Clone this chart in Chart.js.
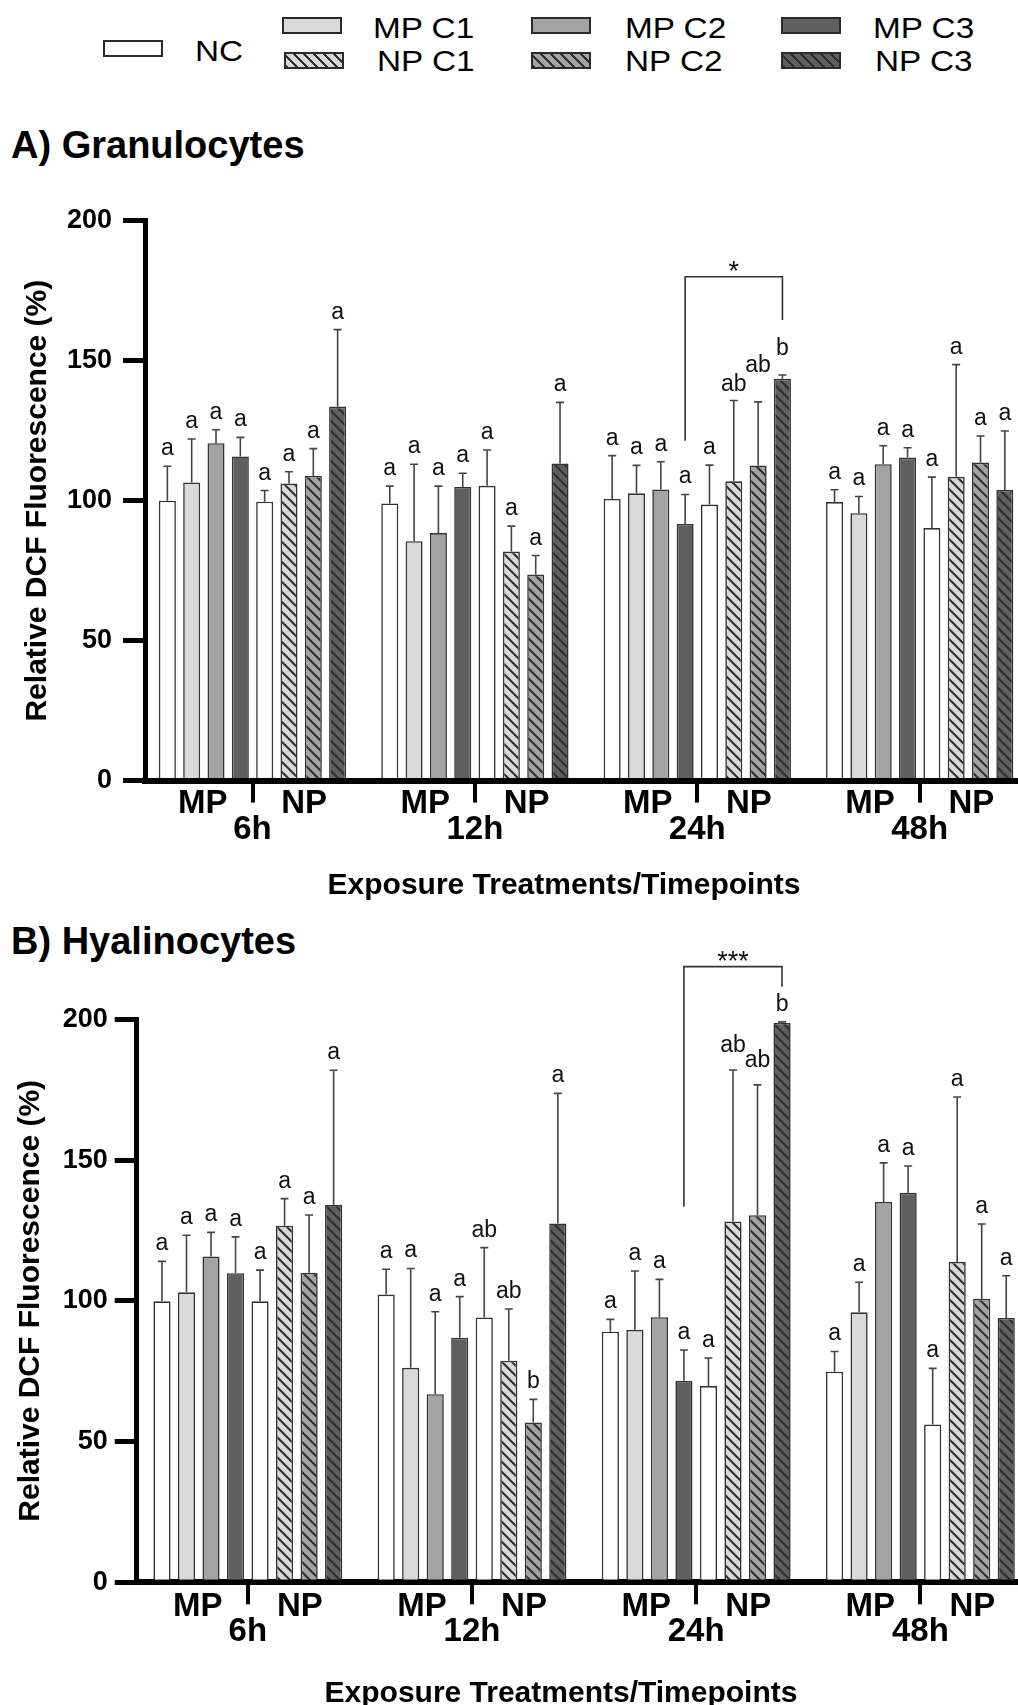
<!DOCTYPE html>
<html>
<head>
<meta charset="utf-8">
<script src="https://cdn.jsdelivr.net/npm/chart.js@4.4.1/dist/chart.umd.min.js"></script>
<style>
  html, body { margin: 0; padding: 0; background: #fff; overflow: hidden; }
  #page { position: relative; width: 1018px; height: 1705px; overflow: hidden; background: #fff;
          font-family: 'Liberation Sans', Arial, sans-serif; color: #000; }
  #page canvas { position: absolute; left: 0; }
  .txt { position: absolute; white-space: nowrap; line-height: 1; }
  .panel-title { font-size: 38px; font-weight: bold; left: 11px; }
  .x-title { font-size: 30px; font-weight: bold; transform: translateX(-50%); }
  .leg-box { position: absolute; box-sizing: border-box; width: 60px; height: 17px; border: 2px solid #2b2b2b; }
  .leg-txt { position: absolute; font-size: 30px; line-height: 1; white-space: nowrap;
             transform: scaleX(1.11); transform-origin: left top; }
</style>
</head>
<body>
<div id="page">
  <div id="legend"></div>
  <div class="txt panel-title" style="top:126px">A) Granulocytes</div>
  <canvas id="chartGran"></canvas>
  <div class="txt x-title" style="top:869px; left:564px">Exposure Treatments/Timepoints</div>
  <div class="txt panel-title" style="top:922px">B) Hyalinocytes</div>
  <canvas id="chartHyal"></canvas>
  <div class="txt x-title" style="top:1677px; left:561px">Exposure Treatments/Timepoints</div>
</div>
<script>
// --- data ---
const timepoints = ['6h', '12h', '24h', '48h'];
const seriesNames = ['NC', 'MP C1', 'MP C2', 'MP C3', 'NC', 'NP C1', 'NP C2', 'NP C3'];
const groupLabels = ['MP', 'NP'];

// A) Granulocytes: mean per series (rows) and timepoint (cols)
const granMean = [
    [100, 99, 100.6, 99.5],
    [106.5, 85.5, 102.6, 95.5],
    [120.5, 88.4, 104, 113],
    [115.8, 104.9, 91.7, 115.4],
    [99.6, 105.3, 98.6, 90.2],
    [106.1, 81.8, 106.9, 108.5],
    [108.8, 73.6, 112.6, 113.6],
    [133.6, 113.3, 143.5, 103.8]
];
const granErr = [
    [12.3, 6.2, 15.5, 4.4],
    [15.5, 27.5, 10, 6],
    [4.8, 16.8, 9.9, 6.6],
    [6.8, 4.9, 10.5, 3.5],
    [4, 12.8, 14.1, 18.2],
    [4.2, 9.1, 28.9, 40.1],
    [9.8, 6.8, 22.7, 9.5],
    [27.5, 21.8, 1.4, 21.1]
];
const granLetters = [
    ['a', 'a', 'a', 'a'],
    ['a', 'a', 'a', 'a'],
    ['a', 'a', 'a', 'a'],
    ['a', 'a', 'a', 'a'],
    ['a', 'a', 'a', 'a'],
    ['a', 'a', 'ab', 'a'],
    ['a', 'a', 'ab', 'a'],
    ['a', 'a', 'b', 'a']
];
const granBracket = { from: [3, 2], to: [7, 2], yFrom: 121.4, yTop: 180, yTo: 164.5, text: '*' };

// B) Hyalinocytes
const hyalMean = [
    [99.8, 102.2, 89, 74.8],
    [103, 76.2, 89.7, 95.9],
    [115.7, 66.8, 94.2, 135.1],
    [109.8, 86.9, 71.6, 138.4],
    [99.8, 94.1, 69.7, 56.1],
    [126.7, 78.7, 128.2, 113.8],
    [110, 56.8, 130.4, 100.7],
    [134, 127.5, 198.8, 93.9]
];
const hyalErr = [
    [14.2, 9, 4.4, 7.2],
    [20.3, 35.3, 20.9, 10.7],
    [8.6, 29.3, 13.4, 13.9],
    [12.9, 14.6, 10.9, 9.5],
    [11.1, 24.8, 10, 19.9],
    [9.6, 18.4, 53.8, 58.6],
    [20.5, 8.2, 46.3, 26.6],
    [47.9, 46.2, 0.3, 15]
];
const hyalLetters = [
    ['a', 'a', 'a', 'a'],
    ['a', 'a', 'a', 'a'],
    ['a', 'a', 'a', 'a'],
    ['a', 'a', 'a', 'a'],
    ['a', 'ab', 'a', 'a'],
    ['a', 'ab', 'ab', 'a'],
    ['a', 'b', 'ab', 'a'],
    ['a', 'a', 'b', 'a']
];
const hyalBracket = { from: [3, 2], to: [7, 2], yFrom: 133.4, yTop: 218.7, yTo: 211.6, text: '***' };

// --- styles ---
const seriesFill = ['#ffffff', '#d9d9d9', '#a3a3a3', '#5f5f5f', '#ffffff', '#d9d9d9', '#a3a3a3', '#5f5f5f'];
const seriesHatch = [false, false, false, false, false, true, true, true];
const FONT = '"Liberation Sans", Arial, sans-serif';
const CANVAS_W = 1040;

Chart.defaults.font.family = FONT;
Chart.defaults.color = '#000';

function hatch(ctx, base) {
    const tile = document.createElement('canvas');
    tile.width = tile.height = 10;
    const g = tile.getContext('2d');
    g.fillStyle = base;
    g.fillRect(0, 0, 10, 10);
    g.strokeStyle = '#2e2e2e';
    g.lineWidth = 2;
    g.beginPath();
    for (let k = -1; k <= 1; k++) {
        g.moveTo(-2, -2 + 10 * k);
        g.lineTo(12, 12 + 10 * k);
    }
    g.stroke();
    return ctx.createPattern(tile, 'repeat');
}

// error bars, letters, MP/NP labels and the bracket
const annotate = {
    id: 'annotate',
    afterDatasetsDraw(chart, args, opts) {
        const ctx = chart.ctx;
        const y = chart.scales.y;
        const nudge = opts.letterNudge || [];
        ctx.save();
        chart.data.datasets.forEach((ds, s) => {
            chart.getDatasetMeta(s).data.forEach((bar, i) => {
                const v = ds.data[i].y;
                const top = y.getPixelForValue(v + ds.err[i]);
                ctx.strokeStyle = '#444';
                ctx.lineWidth = 1.6;
                ctx.beginPath();
                ctx.moveTo(bar.x, y.getPixelForValue(v));
                ctx.lineTo(bar.x, top);
                ctx.moveTo(bar.x - 4, top);
                ctx.lineTo(bar.x + 4, top);
                ctx.stroke();
                // labels are lifted a bit where they would collide
                const n = nudge.find(d => d[0] === s && d[1] === i);
                ctx.fillStyle = '#111';
                ctx.font = '23px ' + FONT;
                ctx.textAlign = 'center';
                ctx.textBaseline = 'alphabetic';
                ctx.fillText(ds.letters[i], bar.x, top - 11 - (n ? n[2] : 0));
            });
        });
        ctx.restore();
    },
    afterDraw(chart, args, opts) {
        const ctx = chart.ctx;
        const y = chart.scales.y;
        const zero = y.getPixelForValue(0);
        ctx.save();
        // MP / NP under each timepoint
        ctx.fillStyle = '#000';
        ctx.font = 'bold 33px ' + FONT;
        ctx.textAlign = 'center';
        ctx.textBaseline = 'alphabetic';
        timepoints.forEach((tp, i) => {
            groupLabels.forEach((lab, g) => {
                let sum = 0;
                for (let s = g * 4; s < g * 4 + 4; s++) sum += chart.getDatasetMeta(s).data[i].x;
                ctx.fillText(lab, sum / 4 + (g ? 3 : -1), zero + opts.labelOffset);
            });
        });
        // significance bracket
        const b = opts.bracket;
        const x1 = chart.getDatasetMeta(b.from[0]).data[b.from[1]].x;
        const x2 = chart.getDatasetMeta(b.to[0]).data[b.to[1]].x;
        const yt = y.getPixelForValue(b.yTop);
        ctx.strokeStyle = '#333';
        ctx.lineWidth = 1.6;
        ctx.beginPath();
        ctx.moveTo(x1, y.getPixelForValue(b.yFrom));
        ctx.lineTo(x1, yt);
        ctx.lineTo(x2, yt);
        ctx.lineTo(x2, y.getPixelForValue(b.yTo));
        ctx.stroke();
        ctx.fillStyle = '#111';
        ctx.font = '27px ' + FONT;
        ctx.fillText(b.text, (x1 + x2) / 2, yt + 3);
        ctx.restore();
    }
};

function renderPanel(canvasId, lay, means, errs, letters, bracket) {
    const canvas = document.getElementById(canvasId);
    canvas.width = CANVAS_W;
    canvas.height = lay.height;
    canvas.style.top = lay.canvasTop + 'px';
    const ctx = canvas.getContext('2d');

    const padTop = lay.plotTop - lay.canvasTop;
    const xHeight = lay.height - (lay.plotZero - lay.canvasTop);
    const xMin = -(lay.firstCenter - lay.axisX) / lay.pitch;
    const xMax = xMin + (CANVAS_W - lay.axisX) / lay.pitch;

    const datasets = seriesNames.map((name, s) => ({
        label: name,
        data: means[s].map((v, i) => ({ x: i, y: v })),
        err: errs[s],
        letters: letters[s],
        backgroundColor: seriesHatch[s] ? hatch(ctx, seriesFill[s]) : seriesFill[s],
        borderColor: '#333',
        borderWidth: 1.6,
        borderSkipped: 'start',
        categoryPercentage: 0.875,
        barPercentage: 0.7
    }));

    return new Chart(ctx, {
        type: 'bar',
        data: { datasets: datasets },
        options: {
            responsive: false,
            animation: false,
            layout: { padding: { top: padTop, left: 0, right: 0, bottom: 0 } },
            plugins: {
                legend: { display: false },
                tooltip: { enabled: false },
                annotate: { bracket: bracket, labelOffset: lay.labelOffset, letterNudge: lay.letterNudge }
            },
            scales: {
                x: {
                    type: 'linear',
                    min: xMin,
                    max: xMax,
                    offset: false,
                    z: 1,
                    afterFit: (scale) => { scale.height = xHeight; },
                    border: { display: true, color: '#000', width: 6 },
                    grid: {
                        offset: false, drawOnChartArea: false, drawTicks: true, tickLength: 22,
                        lineWidth: 4, tickWidth: 4, color: '#000', tickColor: '#000'
                    },
                    ticks: {
                        stepSize: 1, includeBounds: false, autoSkip: false, maxRotation: 0,
                        padding: 8, color: '#000', font: { size: 33, weight: 'bold' },
                        callback: (v) => Number.isInteger(v) ? timepoints[v] : ''
                    }
                },
                y: {
                    min: 0,
                    max: 200,
                    z: 1,
                    afterFit: (scale) => { scale.width = lay.axisX; },
                    border: { display: true, color: '#000', width: 5 },
                    grid: {
                        drawOnChartArea: false, tickLength: 22,
                        lineWidth: 5, tickWidth: 5, color: '#000', tickColor: '#000'
                    },
                    ticks: { stepSize: 50, padding: lay.tickPad, color: '#000', font: { size: 27, weight: 'bold' } },
                    title: {
                        display: true, text: 'Relative DCF Fluorescence (%)', color: '#000',
                        font: { size: 30, weight: 'bold' }, padding: { top: lay.titlePad, bottom: 0 }
                    }
                }
            }
        },
        plugins: [annotate]
    });
}

renderPanel('chartGran',
    { canvasTop: 180, height: 701, plotTop: 220.7, plotZero: 780.6, axisX: 145,
      firstCenter: 252.5, pitch: 222.4, tickPad: 11, titlePad: 20, labelOffset: 32,
      letterNudge: [[5, 2, -2], [6, 2, 19], [7, 2, 9]] },
    granMean, granErr, granLetters, granBracket);
renderPanel('chartHyal',
    { canvasTop: 940, height: 743, plotTop: 1019.3, plotZero: 1582.3, axisX: 136.7,
      firstCenter: 247.8, pitch: 224.2, tickPad: 7, titlePad: 13, labelOffset: 34,
      letterNudge: [[5, 2, 7], [6, 2, 7]] },
    hyalMean, hyalErr, hyalLetters, hyalBracket);

// legend (HTML)
const legendPlaces = [
    { s: 0, box: [102.6, 40], txt: [195, 36] },
    { s: 1, box: [282, 17.3], txt: [373, 12.8] },
    { s: 5, box: [284, 52], txt: [376.5, 46.1] },
    { s: 2, box: [530.5, 17.3], txt: [624.6, 12.8] },
    { s: 6, box: [530.5, 52], txt: [624.6, 46.1] },
    { s: 3, box: [780.5, 17.3], txt: [873.3, 12.8] },
    { s: 7, box: [780.5, 52], txt: [874.6, 46.1] }
];
const legend = document.getElementById('legend');
legendPlaces.forEach(p => {
    const box = document.createElement('div');
    box.className = 'leg-box';
    box.style.left = p.box[0] + 'px';
    box.style.top = p.box[1] + 'px';
    const fill = seriesFill[p.s];
    box.style.background = seriesHatch[p.s]
        ? `repeating-linear-gradient(45deg, #2e2e2e 0 1.5px, ${fill} 1.5px 7.07px)`
        : fill;
    legend.appendChild(box);
    const t = document.createElement('div');
    t.className = 'leg-txt';
    t.style.left = p.txt[0] + 'px';
    t.style.top = p.txt[1] + 'px';
    t.textContent = seriesNames[p.s];
    legend.appendChild(t);
});
</script>
</body>
</html>
